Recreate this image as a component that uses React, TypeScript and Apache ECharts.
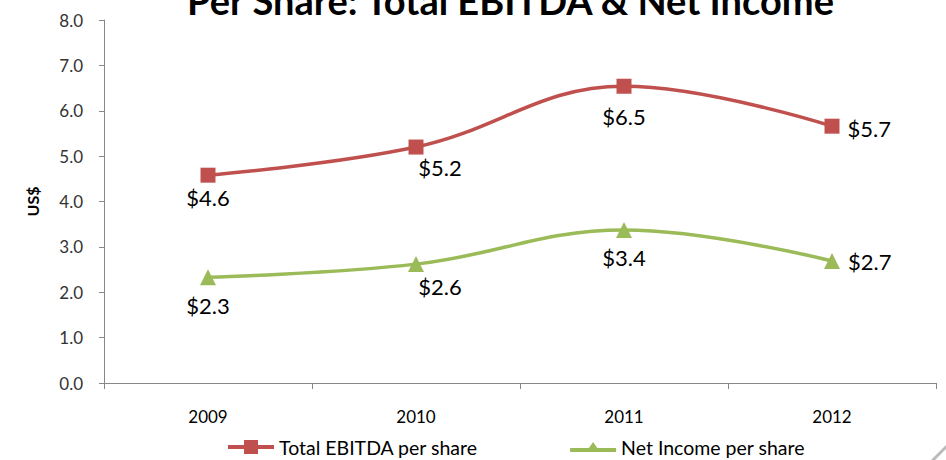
import React, { useEffect, useRef } from "react";
import * as echarts from "echarts";

const years = ["2009", "2010", "2011", "2012"];
const ebitdaPerShare = [4.58, 5.2, 6.54, 5.66];
const netIncomePerShare = [2.33, 2.62, 3.37, 2.69];
const ebitdaLabelPos = ["bottom", "bottom", "bottom", "right"];
const netLabelPos = ["bottom", "bottom", "bottom", "right"];
const ebitdaLabelOffset = [[0, 0], [24, -2], [0, 8], [4, 2]];
const netLabelOffset = [[0, 5], [24, -1], [0, 4], [4, 1]];

const FONT = "Lato, 'Open Sans', sans-serif";

export default function App() {
  const ref = useRef<HTMLDivElement>(null);
  useEffect(() => {
    if (!ref.current) return;
    const chart = echarts.init(ref.current, null, { renderer: "svg" });
    const mkData = (vals: number[], pos: string[], offs: number[][]) =>
      vals.map((v, i) => ({
        value: v,
        label: { position: pos[i], offset: offs[i] },
      }));
    const labelCfg = {
      show: true,
      fontFamily: FONT,
      fontSize: 22,
      color: "#000",
      distance: 4,
      formatter: (p: any) => "$" + Number(p.value).toFixed(1),
    };
    chart.setOption({
      animation: false,
      backgroundColor: "#ffffff",
      title: {
        text: "Per Share: Total EBITDA & Net Income",
        left: 182,
        top: -24,
        textStyle: { fontFamily: FONT, fontWeight: "bold", fontSize: 38, color: "#000" },
      },
      grid: { left: 104, right: 10, top: 20, bottom: 77 },
      legend: {
        top: 432,
        left: 223,
        itemGap: 92,
        itemWidth: 46,
        itemHeight: 14,
        textStyle: { fontFamily: FONT, fontSize: 19.5, color: "#000" },
        data: [
          {
            name: "Total EBITDA per share",
            icon: "path://M0,5 L46,5 L46,9 L0,9 Z M16,0 L30,0 L30,14 L16,14 Z",
          },
          {
            name: "Net Income per share",
            icon: "path://M0,7 L46,7 L46,11 L0,11 Z M23,1 L30,11 L16,11 Z",
          },
        ],
      },
      xAxis: {
        type: "category",
        data: years,
        boundaryGap: true,
        axisLine: { lineStyle: { color: "#888", width: 1 } },
        axisTick: { show: true, length: 6, inside: false, lineStyle: { color: "#888" } },
        axisLabel: { fontFamily: FONT, fontSize: 17, color: "#000", margin: 25 },
      },
      yAxis: {
        type: "value",
        min: 0,
        max: 8,
        interval: 1,
        name: "US$",
        nameLocation: "middle",
        nameGap: 64,
        nameRotate: 90,
        nameTextStyle: { fontFamily: FONT, fontWeight: "bold", fontSize: 16, color: "#000" },
        splitLine: { show: false },
        axisLine: { show: true, lineStyle: { color: "#888", width: 1 } },
        axisTick: { show: true, length: 5, lineStyle: { color: "#888" } },
        axisLabel: {
          fontFamily: FONT,
          fontSize: 17,
          color: "#333",
          margin: 21,
          formatter: (v: number) => v.toFixed(1),
        },
      },
      series: [
        {
          name: "Total EBITDA per share",
          type: "line",
          smooth: 0.4,
          data: mkData(ebitdaPerShare, ebitdaLabelPos, ebitdaLabelOffset),
          symbol: "rect",
          symbolSize: 15,
          lineStyle: { color: "#C0504D", width: 3.5 },
          itemStyle: { color: "#C0504D" },
          label: labelCfg,
        },
        {
          name: "Net Income per share",
          type: "line",
          smooth: 0.4,
          data: mkData(netIncomePerShare, netLabelPos, netLabelOffset),
          symbol: "triangle",
          symbolSize: 16,
          lineStyle: { color: "#9BBB59", width: 3.5 },
          itemStyle: { color: "#9BBB59" },
          label: labelCfg,
        },
      ],
      graphic: [
        {
          type: "line",
          shape: { x1: 932, y1: 461, x2: 947, y2: 446 },
          style: { stroke: "#bbb", lineWidth: 3 },
        },
      ],
    });
    return () => chart.dispose();
  }, []);
  return (
    <div
      ref={ref}
      style={{ position: "fixed", left: 0, top: 0, width: 946, height: 460 }}
    />
  );
}
